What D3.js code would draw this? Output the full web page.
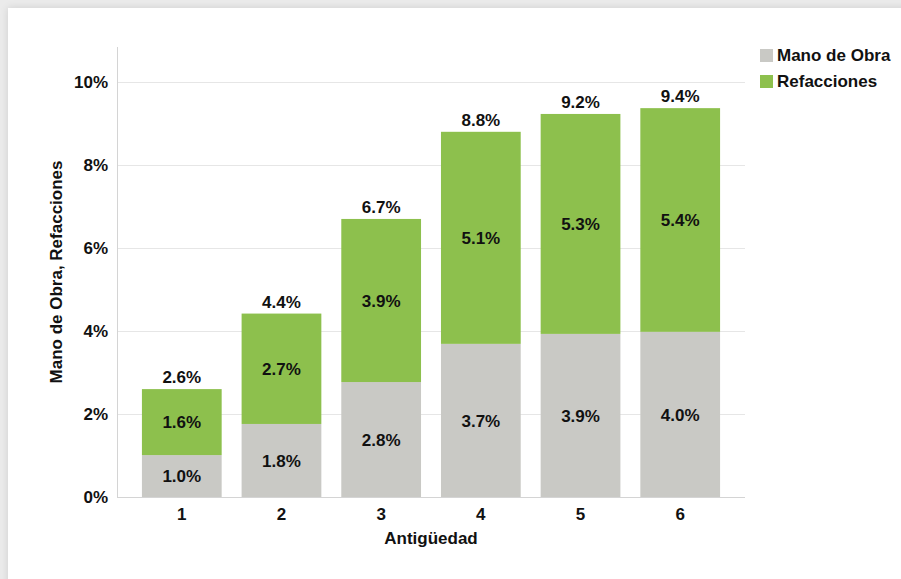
<!DOCTYPE html>
<html>
<head>
<meta charset="utf-8">
<script src="https://cdn.jsdelivr.net/npm/d3@7"></script>
<style>
  html, body { margin: 0; padding: 0; background: #ebebeb; overflow: hidden; }
  #card {
    position: absolute; left: 8px; top: 8px; width: 920px; height: 600px;
    background: #fff; box-shadow: 0 0 8px rgba(0,0,0,0.12);
  }
  svg { position: absolute; left: 0; top: 0; }
  text { font-family: "Liberation Sans", Arial, sans-serif; font-weight: bold; fill: #111; }
</style>
</head>
<body>
<div id="card"></div>
<script>
// Antigüedad vs. costo (%) stacked bars
const categories = ['1', '2', '3', '4', '5', '6'];
const manoDeObra = [1.01, 1.76, 2.77, 3.69, 3.93, 3.98];
const refacciones = [1.59, 2.66, 3.93, 5.11, 5.30, 5.39];
const yTicks = [0, 2, 4, 6, 8, 10];
const seriesNames = ['Mano de Obra', 'Refacciones'];
const seriesColors = ['#c9c9c5', '#8dc04d'];

const width = 901, height = 579;
const fs = '17px';
const svg = d3.select('body').append('svg')
  .attr('width', width)
  .attr('height', height);

const pLeft = 117, pRight = 745, pTop = 47, pBottom = 497;

const x = d3.scaleBand()
  .domain(categories)
  .range([pLeft, pRight])
  .paddingInner(0.2)
  .paddingOuter(0.25);

const y = d3.scaleLinear()
  .domain([0, 10])
  .range([pBottom, 82]);

// gridlines
svg.append('g')
  .selectAll('line')
  .data(yTicks.slice(1))
  .enter().append('line')
  .attr('x1', pLeft).attr('x2', pRight)
  .attr('y1', d => Math.round(y(d)) + 0.5).attr('y2', d => Math.round(y(d)) + 0.5)
  .attr('stroke', '#e6e6e6')
  .attr('stroke-width', 1);

// axes lines
svg.append('line')
  .attr('x1', pLeft + 0.5).attr('x2', pLeft + 0.5)
  .attr('y1', pTop).attr('y2', pBottom)
  .attr('stroke', '#d4d4d4');
svg.append('line')
  .attr('x1', pLeft).attr('x2', pRight)
  .attr('y1', pBottom + 0.5).attr('y2', pBottom + 0.5)
  .attr('stroke', '#d4d4d4');

const rows = categories.map((c, i) => ({ cat: c, mano: manoDeObra[i], ref: refacciones[i] }));
const stacked = d3.stack().keys(['mano', 'ref'])(rows);

const layers = svg.append('g')
  .selectAll('g')
  .data(stacked)
  .enter().append('g')
  .attr('fill', (d, i) => seriesColors[i]);

layers.selectAll('rect')
  .data(d => d)
  .enter().append('rect')
  .attr('x', d => x(d.data.cat))
  .attr('width', x.bandwidth())
  .attr('y', d => y(d[1]))
  .attr('height', d => y(d[0]) - y(d[1]));

// segment labels
layers.selectAll('text')
  .data(d => d)
  .enter().append('text')
  .attr('x', d => x(d.data.cat) + x.bandwidth() / 2)
  .attr('y', d => (y(d[0]) + y(d[1])) / 2)
  .attr('dy', '0.36em')
  .attr('text-anchor', 'middle')
  .style('font-size', fs)
  .text(d => (d[1] - d[0]).toFixed(1) + '%');

// totals
svg.append('g')
  .selectAll('text')
  .data(rows)
  .enter().append('text')
  .attr('x', d => x(d.cat) + x.bandwidth() / 2)
  .attr('y', d => y(d.mano + d.ref) - 6)
  .attr('text-anchor', 'middle')
  .style('font-size', fs)
  .text(d => (d.mano + d.ref).toFixed(1) + '%');

// y tick labels
svg.append('g')
  .selectAll('text')
  .data(yTicks)
  .enter().append('text')
  .attr('x', pLeft - 9)
  .attr('y', d => y(d))
  .attr('dy', '0.36em')
  .attr('text-anchor', 'end')
  .style('font-size', fs)
  .text(d => d + '%');

// x tick labels
svg.append('g')
  .selectAll('text')
  .data(categories)
  .enter().append('text')
  .attr('x', d => x(d) + x.bandwidth() / 2)
  .attr('y', 520)
  .attr('text-anchor', 'middle')
  .style('font-size', fs)
  .text(d => d);

// axis titles
svg.append('text')
  .attr('x', (pLeft + pRight) / 2)
  .attr('y', 544)
  .attr('text-anchor', 'middle')
  .style('font-size', fs)
  .text('Antigüedad');

svg.append('text')
  .attr('transform', 'translate(62,' + ((pTop + pBottom) / 2) + ') rotate(-90)')
  .attr('text-anchor', 'middle')
  .style('font-size', fs)
  .text('Mano de Obra, Refacciones');

// legend
const legend = svg.append('g')
  .selectAll('g')
  .data(seriesNames)
  .enter().append('g')
  .attr('transform', (d, i) => 'translate(760,' + (49 + i * 26) + ')');
legend.append('rect')
  .attr('width', 13).attr('height', 13)
  .attr('fill', (d, i) => seriesColors[i]);
legend.append('text')
  .attr('x', 17)
  .attr('y', 12)
  .style('font-size', fs)
  .text(d => d);
</script>
</body>
</html>
